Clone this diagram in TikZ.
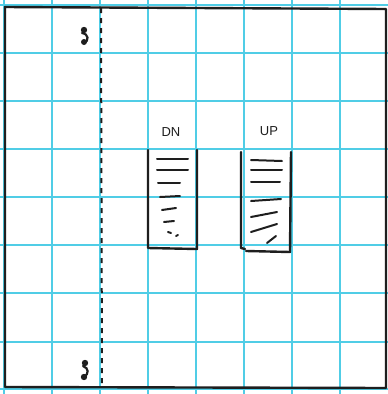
\documentclass[tikz,border=0pt]{standalone}
\usepackage{fontspec}
\setmainfont{Liberation Sans}
\definecolor{gridc}{RGB}{80,205,230}
\definecolor{ink}{RGB}{30,30,30}
\begin{document}
\begin{tikzpicture}[x=1pt,y=-1pt,
  gridline/.style={draw=gridc,line width=1.5pt},
  wall/.style={draw=ink,line width=2.4pt,line cap=round,line join=round},
  tread/.style={draw=ink,line width=2pt,line cap=round},
  cutline/.style={draw=ink,line width=2pt,dash pattern=on 5pt off 5pt},
  lbl/.style={font=\fontsize{13}{13}\selectfont,text=ink,inner sep=0pt}]
\useasboundingbox (0,0) rectangle (388,394);
\fill[white] (0,0) rectangle (388,394);
% grid
\foreach \g in {4,52,100,148,196,244,292,340} {
  \draw[gridline] (\g,0) -- (\g,394);
}
\foreach \g in {5,53,101,149,197,245,293,342,389} {
  \draw[gridline] (0,\g) -- (388,\g);
}
% border
\draw[wall] (5,7) -- (386,9) -- (386,388) -- (5,387) -- cycle;
% section cut line
\coordinate (ctop) at (101,8);
\coordinate (cbot) at (102,386);
\draw[cutline] (ctop) -- (cbot);
% section marks
\fill[ink] (84,30) circle (3.2);
\draw[ink,line width=2.2pt,line cap=round] (82,33) .. controls (89,34) and (89,41) .. (84,43);
\fill[ink] (84,42) circle (3);
\fill[ink] (85,363) circle (3.2);
\draw[ink,line width=2.2pt,line cap=round] (83,366) .. controls (89,368) and (89,374) .. (84,377);
\fill[ink] (84,377) circle (3.2);
% DN stair
\draw[wall] (148,150) -- (148,248) -- (197,249) -- (197,150);
\node[lbl] (dn) at (171,132) {DN};
\draw[tread] (157,159) -- (188,159);
\draw[tread] (157,170) -- (188,170);
\draw[tread] (158,183) -- (180,183);
\draw[tread] (160,197) -- (180,196);
\draw[tread] (162,210) -- (176,208);
\draw[tread] (164,222) -- (174,221);
\draw[tread] (168,232) -- (171,233);
\draw[tread] (176,236) -- (178,235);
% UP stair
\draw[wall] (241,152) -- (241,248) -- (245,249);
\draw[wall] (246,251) -- (290,252) -- (291,152);
\node[lbl] (up) at (269,131) {UP};
\draw[tread] (251,160) -- (282,161);
\draw[tread] (251,170) -- (282,170);
\draw[tread] (251,182) -- (280,182);
\draw[tread] (251,201) -- (281,199);
\draw[tread] (251,217) -- (277,212);
\draw[tread] (251,232) -- (277,224);
\draw[tread] (267,243) -- (276,236);
\end{tikzpicture}
\end{document}
